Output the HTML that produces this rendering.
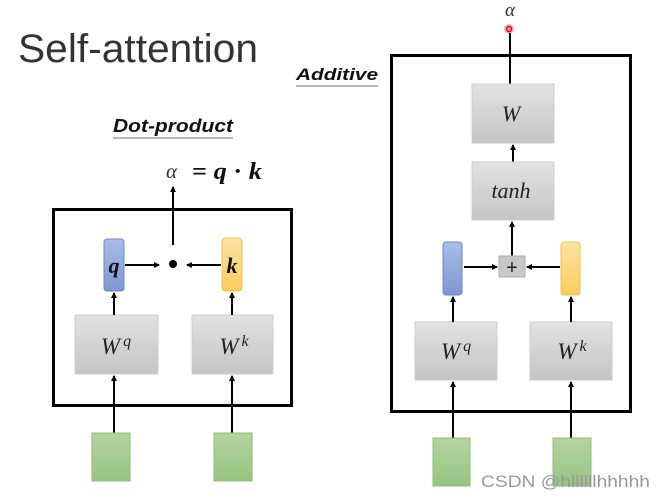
<!DOCTYPE html>
<html><head><meta charset="utf-8"><style>
html,body{margin:0;padding:0;background:#fff;}
svg{display:block;}
</style></head><body>
<svg width="662" height="497" viewBox="0 0 662 497" xmlns="http://www.w3.org/2000/svg">
<defs>
<linearGradient id="g" x1="0" y1="0" x2="0" y2="1"><stop offset="0" stop-color="#e2e2e2"/><stop offset="1" stop-color="#c4c4c4"/></linearGradient>
<linearGradient id="gr" x1="0" y1="0" x2="0" y2="1"><stop offset="0" stop-color="#b3d5a0"/><stop offset="1" stop-color="#98c482"/></linearGradient>
<linearGradient id="bl" x1="0" y1="0" x2="0" y2="1"><stop offset="0" stop-color="#a9bde6"/><stop offset="1" stop-color="#7d97d2"/></linearGradient>
<linearGradient id="or" x1="0" y1="0" x2="0" y2="1"><stop offset="0" stop-color="#fde3a0"/><stop offset="1" stop-color="#f8cc62"/></linearGradient>
<marker id="a" markerWidth="6" markerHeight="6" refX="5" refY="3" orient="auto" markerUnits="userSpaceOnUse"><path d="M0,0 L6,3 L0,6z" fill="#000"/></marker>
</defs>
<text x="18" y="62" font-family="Liberation Sans, sans-serif" font-size="40" fill="#333" textLength="240" lengthAdjust="spacingAndGlyphs">Self-attention</text>

<!-- Dot-product -->
<text x="113" y="132" font-family="Liberation Sans, sans-serif" font-size="18" font-weight="bold" font-style="italic" fill="#111" textLength="120" lengthAdjust="spacingAndGlyphs">Dot-product</text>
<line x1="113" y1="138" x2="233" y2="138" stroke="#777" stroke-width="1"/>
<text x="166" y="178" font-family="Liberation Serif, serif" font-size="21" font-style="italic" fill="#333">α</text>
<text x="192" y="179" font-family="Liberation Serif, serif" font-size="24" font-weight="bold" fill="#111" textLength="70" lengthAdjust="spacingAndGlyphs">= <tspan font-style="italic">q</tspan> · <tspan font-style="italic">k</tspan></text>
<rect x="53.5" y="209.5" width="238" height="196" fill="none" stroke="#000" stroke-width="3"/>
<line x1="173" y1="245" x2="173" y2="187" stroke="#000" stroke-width="2" marker-end="url(#a)"/>
<rect x="104" y="239" width="20" height="52" rx="3" fill="url(#bl)" stroke="#6d88c8"/>
<rect x="222" y="238" width="20" height="53" rx="3" fill="url(#or)" stroke="#f0c050"/>
<text x="114" y="273" text-anchor="middle" font-family="Liberation Serif, serif" font-size="22" font-weight="bold" font-style="italic" fill="#111">q</text>
<text x="232" y="273" text-anchor="middle" font-family="Liberation Serif, serif" font-size="22" font-weight="bold" font-style="italic" fill="#111">k</text>
<circle cx="173" cy="264" r="4" fill="#000"/>
<line x1="125" y1="265" x2="159" y2="265" stroke="#000" stroke-width="2" marker-end="url(#a)"/>
<line x1="221" y1="265" x2="187" y2="265" stroke="#000" stroke-width="2" marker-end="url(#a)"/>
<rect x="75" y="315" width="83" height="59" fill="url(#g)" stroke="#ccc"/>
<rect x="192" y="315" width="81" height="59" fill="url(#g)" stroke="#ccc"/>
<text x="116" y="354" text-anchor="middle" font-family="Liberation Serif, serif" font-size="23" font-style="italic" fill="#222">W<tspan dx="3" dy="-8" font-size="16">q</tspan></text>
<text x="234" y="354" text-anchor="middle" font-family="Liberation Serif, serif" font-size="23" font-style="italic" fill="#222">W<tspan dx="3" dy="-8" font-size="16">k</tspan></text>
<line x1="114" y1="315" x2="114" y2="293" stroke="#000" stroke-width="2" marker-end="url(#a)"/>
<line x1="232" y1="315" x2="232" y2="293" stroke="#000" stroke-width="2" marker-end="url(#a)"/>
<line x1="114" y1="433" x2="114" y2="376" stroke="#000" stroke-width="2" marker-end="url(#a)"/>
<line x1="232" y1="433" x2="232" y2="376" stroke="#000" stroke-width="2" marker-end="url(#a)"/>
<rect x="92" y="433" width="38" height="48" fill="url(#gr)" stroke="#8fbc78"/>
<rect x="214" y="433" width="38" height="48" fill="url(#gr)" stroke="#8fbc78"/>

<!-- Additive -->
<text x="296" y="80" font-family="Liberation Sans, sans-serif" font-size="17" font-weight="bold" font-style="italic" fill="#111" textLength="82" lengthAdjust="spacingAndGlyphs">Additive</text>
<line x1="296" y1="86" x2="378" y2="86" stroke="#777" stroke-width="1"/>
<rect x="391.5" y="55.5" width="239" height="356" fill="none" stroke="#000" stroke-width="3"/>
<text x="510" y="16" text-anchor="middle" font-family="Liberation Serif, serif" font-size="19" font-style="italic" fill="#333">α</text>
<circle cx="509" cy="29" r="5" fill="#ff8080" opacity="0.6"/>
<circle cx="509" cy="29" r="2.5" fill="none" stroke="#e00" stroke-width="1.5"/>
<line x1="510" y1="33" x2="510" y2="84" stroke="#000" stroke-width="2"/>
<rect x="472" y="84" width="82" height="59" fill="url(#g)" stroke="#ccc"/>
<text x="511" y="121" text-anchor="middle" font-family="Liberation Serif, serif" font-size="22" font-style="italic" fill="#222">W</text>
<line x1="513" y1="162" x2="513" y2="145" stroke="#000" stroke-width="2" marker-end="url(#a)"/>
<rect x="472" y="162" width="82" height="58" fill="url(#g)" stroke="#ccc"/>
<text x="511" y="198" text-anchor="middle" font-family="Liberation Serif, serif" font-size="22" font-style="italic" fill="#222">tanh</text>
<line x1="512" y1="256" x2="512" y2="222" stroke="#000" stroke-width="2" marker-end="url(#a)"/>
<rect x="443" y="242" width="19" height="53" rx="3" fill="url(#bl)" stroke="#6d88c8"/>
<rect x="561" y="242" width="19" height="53" rx="3" fill="url(#or)" stroke="#f0c050"/>
<rect x="499" y="256" width="26" height="21" fill="#c8c8c8" stroke="#aaa"/>
<text x="512" y="274" text-anchor="middle" font-family="Liberation Sans, sans-serif" font-size="20" fill="#222">+</text>
<line x1="464" y1="267" x2="497" y2="267" stroke="#000" stroke-width="2" marker-end="url(#a)"/>
<line x1="560" y1="267" x2="527" y2="267" stroke="#000" stroke-width="2" marker-end="url(#a)"/>
<rect x="415" y="322" width="82" height="58" fill="url(#g)" stroke="#ccc"/>
<rect x="530" y="322" width="82" height="58" fill="url(#g)" stroke="#ccc"/>
<text x="456" y="359" text-anchor="middle" font-family="Liberation Serif, serif" font-size="23" font-style="italic" fill="#222">W<tspan dx="3" dy="-8" font-size="16">q</tspan></text>
<text x="572" y="359" text-anchor="middle" font-family="Liberation Serif, serif" font-size="23" font-style="italic" fill="#222">W<tspan dx="3" dy="-8" font-size="16">k</tspan></text>
<line x1="453" y1="322" x2="453" y2="297" stroke="#000" stroke-width="2" marker-end="url(#a)"/>
<line x1="571" y1="322" x2="571" y2="297" stroke="#000" stroke-width="2" marker-end="url(#a)"/>
<line x1="453" y1="438" x2="453" y2="382" stroke="#000" stroke-width="2" marker-end="url(#a)"/>
<line x1="571" y1="438" x2="571" y2="382" stroke="#000" stroke-width="2" marker-end="url(#a)"/>
<rect x="433" y="438" width="37" height="48" fill="url(#gr)" stroke="#8fbc78"/>
<rect x="553" y="438" width="38" height="48" fill="url(#gr)" stroke="#8fbc78"/>

<text x="481" y="487" font-family="Liberation Sans, sans-serif" font-size="17" fill="#999" textLength="169" lengthAdjust="spacingAndGlyphs">CSDN @hllllllhhhhh</text>
</svg>
</body></html>
